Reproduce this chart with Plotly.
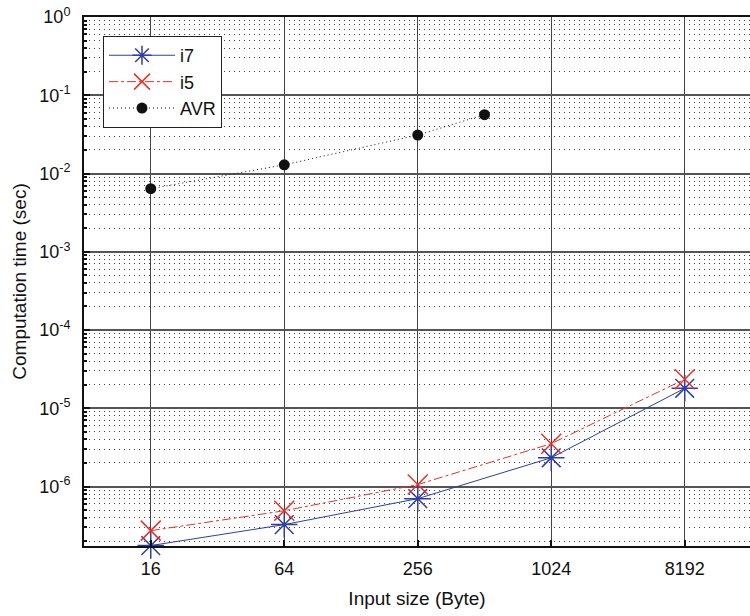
import plotly.graph_objects as go

# ---- data ----
x_labels = ["16", "64", "256", "1024", "8192"]
x_pos = [1, 2, 3, 4, 5]
i7_vals = [1.76e-7, 3.26e-7, 7.0e-7, 2.33e-6, 1.8e-5]
i5_vals = [2.73e-7, 4.9e-7, 1.06e-6, 3.53e-6, 2.35e-5]
avr_pos = [1, 2, 3, 3.5]
avr_vals = [6.4e-3, 1.29e-2, 3.1e-2, 5.65e-2]
y_tickvals = [1e-6, 1e-5, 1e-4, 1e-3, 1e-2, 1e-1, 1]
y_ticktext = ["10<sup>-6</sup>", "10<sup>-5</sup>", "10<sup>-4</sup>", "10<sup>-3</sup>",
              "10<sup>-2</sup>", "10<sup>-1</sup>", "10<sup>0</sup>"]

FONT = "Liberation Sans, Arial, sans-serif"

fig = go.Figure()
fig.add_trace(go.Scatter(
    x=x_pos, y=i7_vals, name="i7", mode="lines+markers", cliponaxis=False,
    line=dict(color="#2f3f9e", width=1),
    marker=dict(symbol="asterisk-open", size=22, color="#2f3f9e", line=dict(width=1.5, color="#2f3f9e")),
))
fig.add_trace(go.Scatter(
    x=x_pos, y=i5_vals, name="i5", mode="lines+markers", cliponaxis=False,
    line=dict(color="#e53228", width=1, dash="dashdot"),
    marker=dict(symbol="x-thin-open", size=20, color="#e53228", line=dict(width=1.5, color="#e53228")),
))
fig.add_trace(go.Scatter(
    x=avr_pos, y=avr_vals, name="AVR", mode="lines+markers",
    line=dict(color="#111111", width=1, dash="1px,3px"),
    marker=dict(symbol="circle", size=11, color="#111111"),
))

fig.update_layout(
    width=750, height=616,
    margin=dict(l=84, r=0, t=17, b=70),
    plot_bgcolor="white", paper_bgcolor="white",
    font=dict(family=FONT, size=18, color="#111"),
    showlegend=True,
    legend=dict(
        x=0.0285, y=0.964, xanchor="left", yanchor="top",
        bgcolor="white", bordercolor="#222", borderwidth=1,
        font=dict(size=18, family=FONT),
        itemwidth=66, tracegroupgap=0,
    ),
)
fig.update_xaxes(
    range=[0.5, 0.5 + 666 / 133.5],
    tickvals=x_pos, ticktext=x_labels,
    showgrid=True, gridcolor="#444", gridwidth=1,
    showline=True, linecolor="#111", linewidth=2, mirror=True,
    ticks="inside", ticklen=6, tickcolor="#111", tickwidth=2,
    ticklabelstandoff=5, ticklabeloverflow="allow",
    zeroline=False, automargin=False,
    title=dict(text="Input size (Byte)", font=dict(size=19, family=FONT), standoff=14),
)
fig.update_yaxes(
    type="log", range=[-6.76, 0],
    tickvals=y_tickvals, ticktext=y_ticktext,
    showgrid=True, gridcolor="#555", gridwidth=1.5,
    showline=True, linecolor="#111", linewidth=2, mirror=False,
    ticks="inside", ticklen=6, tickcolor="#111", tickwidth=2,
    ticklabelstandoff=8, ticklabeloverflow="allow",
    minor=dict(showgrid=True, griddash="1px,4px", gridcolor="#444", gridwidth=1,
               ticks="inside", ticklen=3, tickcolor="#111",
               dtick="D1"),
    zeroline=False, automargin=False,
    title=dict(text="Computation time (sec)", font=dict(size=19, family=FONT), standoff=8),
)

fig.write_html("out.html", config={"displayModeBar": False},
               post_script="document.body.style.margin='0';")
